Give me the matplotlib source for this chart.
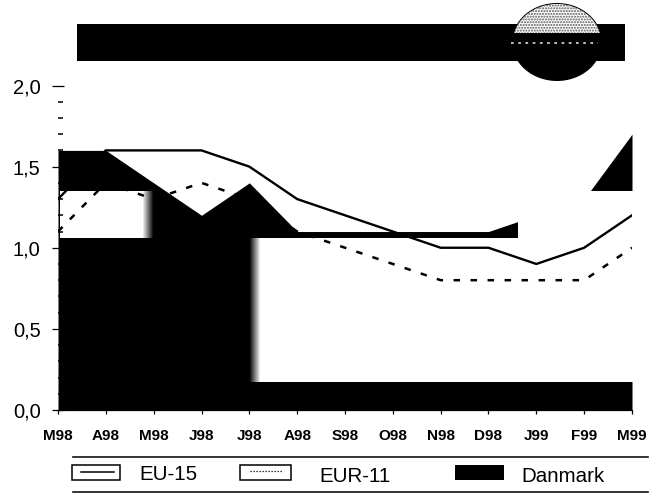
import matplotlib
matplotlib.use('Agg')
import matplotlib.pyplot as plt
from matplotlib.patches import Rectangle, Ellipse
from matplotlib.ticker import MultipleLocator

plt.rcParams['font.family'] = ['Liberation Sans', 'DejaVu Sans']

months = ['M98', 'A98', 'M98', 'J98', 'J98', 'A98', 'S98', 'O98', 'N98', 'D98', 'J99', 'F99', 'M99']
eu15 = [1.3, 1.6, 1.6, 1.6, 1.5, 1.3, 1.2, 1.1, 1.0, 1.0, 0.9, 1.0, 1.2]
eur11 = [1.1, 1.4, 1.3, 1.4, 1.3, 1.1, 1.0, 0.9, 0.8, 0.8, 0.8, 0.8, 1.0]
danmark = [1.6, 1.6, 1.4, 1.2, 1.4, 1.1, 1.1, 1.1, 1.1, 1.1, 1.2, 1.3, 1.7]
yticks = [0.0, 0.5, 1.0, 1.5, 2.0]
ylabels = ['0,0', '0,5', '1,0', '1,5', '2,0']

# white blocks the scan left on top of the area: x from, x to, y from, y to
wipe_left = [0.05, 1.78, 1.06, 1.35]
wipe_mid = [4.22, 12.02, 0.17, 1.06]
wipe_right = [9.62, 12.02, 1.06, 1.35]

W, H = 661, 496
fig = plt.figure(figsize=(W / 100, H / 100), dpi=100)
ax = fig.add_axes([58 / W, (H - 410) / H, 574 / W, 324.5 / H])
x = list(range(len(months)))

ax.fill_between(x, danmark, color='black', lw=0, zorder=1)


def wipe(x0, x1, y0, y1, fade_left=False, fade_right=False):
    ax.add_patch(Rectangle((x0, y0), x1 - x0, y1 - y0, color='white', lw=0, zorder=1.1, clip_on=False))
    # soft grainy edge of the photocopy
    steps = 10
    d = 0.02
    for i in range(steps):
        a = 1 - (i + 1) / (steps + 1)
        if fade_left:
            ax.add_patch(Rectangle((x0 - (i + 1) * d, y0), d, y1 - y0, fc='white', alpha=a, lw=0, zorder=1.1))
        if fade_right:
            ax.add_patch(Rectangle((x1 + i * d, y0), d, y1 - y0, fc='white', alpha=a, lw=0, zorder=1.1))


wipe(*wipe_left, fade_right=True)
wipe(*wipe_mid, fade_left=True)
wipe(*wipe_right)

ax.plot(x, eu15, color='black', lw=1.7, zorder=3, solid_joinstyle='miter')
ax.plot(x, eur11, color='black', lw=1.8, ls=(0, (2.6, 4.2)), zorder=3)

ax.set_xlim(0, 12)
ax.set_ylim(0, 2)
ax.set_xticks(x)
ax.set_xticklabels(months, fontsize=11, fontweight='bold')
ax.set_yticks(yticks)
ax.set_yticklabels(ylabels, fontsize=14.5)
ax.yaxis.set_minor_locator(MultipleLocator(0.1))
ax.tick_params(axis='x', length=3.2, width=0.9, pad=10.5)
ax.tick_params(axis='y', which='major', direction='inout', length=8, width=0.9, pad=8.5)
ax.tick_params(axis='y', which='minor', direction='in', length=3.6, width=1.1)
for s in ['top', 'right', 'left']:
    ax.spines[s].set_visible(False)
ax.spines['bottom'].set_linewidth(0.9)
ax.patch.set_alpha(0)

# banner and legend in pixel coordinates
ov = fig.add_axes([0, 0, 1, 1], zorder=5)
ov.set_xlim(0, W)
ov.set_ylim(H, 0)
ov.axis('off')
ov.patch.set_alpha(0)

ov.add_patch(Rectangle((77, 24), 548, 37, color='black', lw=0))
ov.add_patch(Ellipse((557, 42), 90, 78, color='black', lw=0, zorder=2))
logo = Ellipse((557, 42), 88, 76, facecolor='white', edgecolor='#555555', hatch='......', lw=0, zorder=3)
ov.add_patch(logo)
logo.set_clip_path(Rectangle((500, 0), 120, 33, transform=ov.transData))
ov.plot([511, 598], [43, 43], color='#cccccc', lw=1.3, ls=(0, (1.5, 2.5)), zorder=4)

for yy in [456.5, 491.5]:
    ov.plot([73, 648], [yy, yy], color='#111111', lw=1.2)

ov.add_patch(Rectangle((72, 465), 48, 15, fill=False, ec='black', lw=1.1))
ov.plot([81, 114], [471.5, 471.5], color='black', lw=1.1)
ov.add_patch(Rectangle((240, 465), 51, 15, fill=False, ec='black', lw=1.1))
ov.plot([250, 283], [471, 471], color='black', lw=0.9, ls=(0, (1, 1.4)))
ov.add_patch(Rectangle((455, 465), 49, 15, color='black', lw=0))
ov.text(139, 475, 'EU-15', fontsize=14.8, va='center', ha='left')
ov.text(319, 476, 'EUR-11', fontsize=14.8, va='center', ha='left')
ov.text(521, 476, 'Danmark', fontsize=14.8, va='center', ha='left')

fig.savefig('out.png', dpi=100)
